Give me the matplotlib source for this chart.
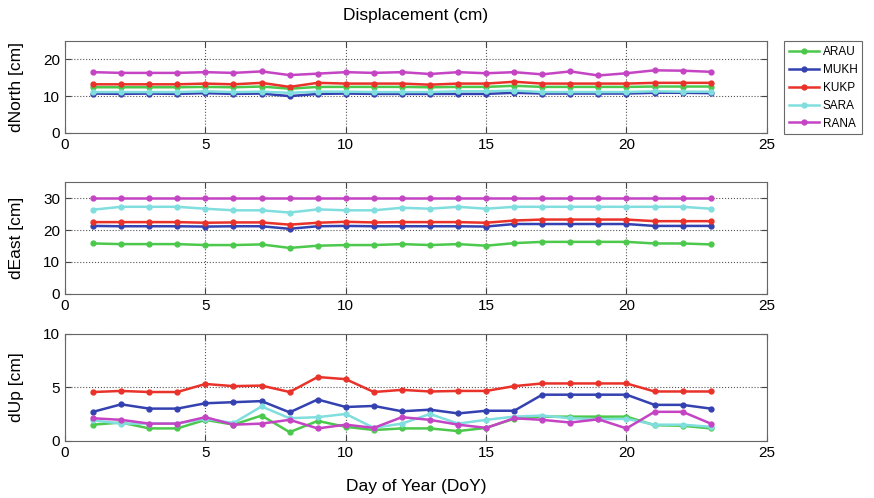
import numpy as np
import matplotlib
matplotlib.use('Agg')
from matplotlib import pyplot as plt

plt.rcParams['font.family'] = ['Liberation Sans', 'DejaVu Sans']

days = np.arange(1, 24)
stations = ['ARAU', 'MUKH', 'KUKP', 'SARA', 'RANA']
colors = ['#4cc84c', '#3441b0', '#e8322a', '#80dede', '#c444c4']

# dNorth [cm]
north_arau = [12.4, 12.4, 12.4, 12.4, 12.5, 12.4, 12.6, 12.0, 12.5, 12.5, 12.5, 12.5, 12.4, 12.5, 12.5, 12.8, 12.5, 12.5, 12.5, 12.5, 12.6, 12.6, 12.6]
north_mukh = [10.7, 10.6, 10.7, 10.6, 10.8, 10.6, 10.7, 10.0, 10.6, 10.7, 10.6, 10.6, 10.6, 10.6, 10.6, 10.9, 10.7, 10.7, 10.7, 10.7, 10.9, 10.9, 10.8]
north_kukp = [13.2, 13.2, 13.2, 13.2, 13.4, 13.2, 13.6, 12.5, 13.6, 13.4, 13.4, 13.4, 13.1, 13.4, 13.4, 13.9, 13.4, 13.4, 13.4, 13.4, 13.6, 13.6, 13.6]
north_sara = [11.1, 11.1, 11.1, 11.1, 11.3, 11.1, 11.2, 10.9, 11.2, 11.2, 11.1, 11.1, 11.1, 11.3, 11.3, 11.5, 11.1, 11.1, 11.1, 11.1, 11.3, 11.2, 11.2]
north_rana = [16.5, 16.3, 16.3, 16.3, 16.5, 16.3, 16.7, 15.7, 16.1, 16.5, 16.3, 16.5, 16.0, 16.5, 16.2, 16.5, 15.9, 16.7, 15.6, 16.2, 17.0, 16.9, 16.6]

# dEast [cm]
east_arau = [15.8, 15.6, 15.6, 15.6, 15.3, 15.3, 15.5, 14.4, 15.1, 15.3, 15.3, 15.6, 15.3, 15.6, 15.1, 15.9, 16.3, 16.3, 16.3, 16.3, 15.8, 15.8, 15.5]
east_mukh = [21.3, 21.2, 21.2, 21.2, 21.1, 21.2, 21.2, 20.4, 21.2, 21.3, 21.2, 21.2, 21.2, 21.2, 21.1, 21.9, 21.9, 21.9, 21.9, 21.9, 21.3, 21.3, 21.3]
east_kukp = [22.5, 22.5, 22.5, 22.5, 22.3, 22.4, 22.4, 21.7, 22.3, 22.6, 22.4, 22.5, 22.5, 22.5, 22.3, 23.0, 23.3, 23.3, 23.3, 23.3, 22.8, 22.8, 22.8]
east_sara = [26.4, 27.3, 27.3, 27.3, 26.7, 26.2, 26.2, 25.5, 26.5, 26.2, 26.2, 27.0, 26.7, 27.3, 26.7, 27.3, 27.3, 27.3, 27.3, 27.3, 27.3, 27.3, 26.7]
east_rana = [30.0] * 23

# dUp [cm]
up_arau = [1.5, 1.7, 1.15, 1.15, 1.95, 1.5, 2.35, 0.8, 1.85, 1.3, 1.0, 1.15, 1.15, 0.9, 1.2, 2.05, 2.25, 2.25, 2.25, 2.25, 1.45, 1.4, 1.15]
up_mukh = [2.7, 3.4, 3.0, 3.0, 3.5, 3.6, 3.7, 2.65, 3.85, 3.15, 3.25, 2.75, 2.9, 2.55, 2.8, 2.8, 4.3, 4.3, 4.3, 4.3, 3.35, 3.35, 3.0]
up_kukp = [4.55, 4.65, 4.55, 4.55, 5.3, 5.1, 5.15, 4.55, 5.95, 5.75, 4.55, 4.75, 4.6, 4.65, 4.65, 5.1, 5.35, 5.35, 5.35, 5.35, 4.6, 4.6, 4.6]
up_sara = [1.9, 1.6, 1.6, 1.6, 2.05, 1.65, 3.2, 2.1, 2.2, 2.5, 1.2, 1.6, 2.5, 1.6, 1.95, 2.25, 2.35, 2.1, 2.0, 2.05, 1.5, 1.5, 1.3]
up_rana = [2.1, 1.95, 1.6, 1.6, 2.2, 1.5, 1.6, 1.95, 1.15, 1.5, 1.2, 2.2, 1.95, 1.5, 1.2, 2.1, 1.95, 1.7, 2.0, 1.15, 2.7, 2.7, 1.6]

panels = [
    ('dNorth [cm]', [north_arau, north_mukh, north_kukp, north_sara, north_rana], 25, [0, 10, 20], [0.0744, 0.733, 0.803, 0.185]),
    ('dEast [cm]', [east_arau, east_mukh, east_kukp, east_sara, east_rana], 35, [0, 10, 20, 30], [0.0744, 0.410, 0.803, 0.224]),
    ('dUp [cm]', [up_arau, up_mukh, up_kukp, up_sara, up_rana], 10, [0, 5, 10], [0.0744, 0.115, 0.803, 0.215]),
]

fig = plt.figure(figsize=(8.74, 4.98), dpi=100)
axes = []
for label, series, ymax, yticks, pos in panels:
    ax = fig.add_axes(pos)
    for name, vals, c in zip(stations, series, colors):
        ax.plot(days, vals, '-o', color=c, lw=1.8, ms=3.5, label=name)
    ax.set_xlim(0, 25)
    ax.set_ylim(0, ymax)
    ax.set_xticks([0, 5, 10, 15, 20, 25])
    ax.set_yticks(yticks)
    ax.grid(True, ls=':', color='#555555', lw=0.8)
    ax.tick_params(direction='in', top=True, right=True, labelsize=11, length=4, color='#444444')
    ax.set_ylabel(label, fontsize=12.5)
    ax.yaxis.set_label_coords(-0.058, 0.5)
    for s in ax.spines.values():
        s.set_color('#666666')
    axes.append(ax)

axes[0].set_title('Displacement (cm)', fontsize=12.5, pad=15)
axes[2].set_xlabel('Day of Year (DoY)', fontsize=12.5, labelpad=14)

leg = axes[0].legend(loc='upper left', bbox_to_anchor=(1.016, 1.06), fontsize=8.5,
                     frameon=True, fancybox=False, edgecolor='#444444',
                     handlelength=2.6, borderpad=0.4, labelspacing=0.5, handletextpad=0.3)
leg.get_frame().set_linewidth(0.8)

fig.savefig('out.png', dpi=100)
